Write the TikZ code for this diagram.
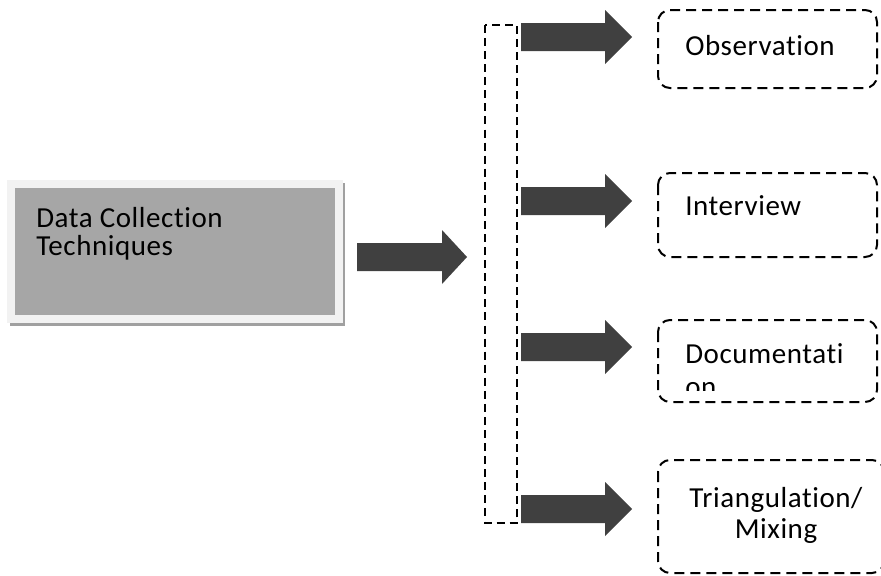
\documentclass[tikz,border=0pt]{standalone}
\usepackage{fontspec}
\setmainfont{Carlito}[LetterSpace=2,Ligatures=NoCommon]
\definecolor{arrowgray}{HTML}{404040}
\definecolor{boxgray}{HTML}{A6A6A6}
\definecolor{rimgray}{HTML}{F2F2F2}
\definecolor{shadowgray}{HTML}{A0A0A0}
\newcommand\mkblockarrow[3]{%
  \fill[blockarrow] (#1) ++(0,-14) -- ++(#2,0) -- ++(0,-13) -- ++(#3,27) -- ++(-#3,27) -- ++(0,-13) -- ++(-#2,0) -- cycle;}
\begin{document}
\begin{tikzpicture}[x=0.75pt,y=-0.75pt,
  blockarrow/.style={fill=arrowgray},
  itembox/.style={draw=black,line width=1.5pt,dash pattern=on 7.5pt off 4.5pt,rounded corners=9pt},
  bracketbox/.style={draw=black,line width=1.2pt,dash pattern=on 6pt off 3.8pt},
  lbl/.style={font=\fontsize{21.75pt}{23pt}\selectfont,inner sep=0pt,anchor=base west}]
\useasboundingbox (0,0) rectangle (881,575);
% main box
\fill[shadowgray] (10,183) rectangle (345,326);
\fill[rimgray] (7,180) rectangle (343,323);
\fill[boxgray] (15,188) rectangle (335,315);
\node[lbl] (t1) at (36,227) {Data Collection};
\node[lbl] (t2) at (36,255) {Techniques};
% bracket
\draw[bracketbox] (485,25) rectangle (517,523);
% arrows
\coordinate (a0) at (357,257);
\coordinate (a1) at (521,37);
\coordinate (a2) at (521,201);
\coordinate (a3) at (521,347);
\coordinate (a4) at (521,509);
\mkblockarrow{a0}{85}{25}
\mkblockarrow{a1}{84}{27}
\mkblockarrow{a2}{84}{27}
\mkblockarrow{a3}{84}{27}
\mkblockarrow{a4}{84}{27}
% item boxes
\draw[itembox] (658,10) rectangle (877,88);
\draw[itembox] (658,173) rectangle (877,257);
\draw[itembox] (658,320) rectangle (877,402);
\draw[itembox] (658,460) rectangle (884,573);
\node[lbl] (obs) at (685,55) {Observation};
\node[lbl] (int) at (685,215) {Interview};
\begin{scope}
\clip (660,322) rectangle (875,390);
\node[lbl] (doc) at (685,363) {Documentati};
\node[lbl] (doc2) at (685,396) {on};
\end{scope}
\node[lbl,anchor=base] (tri) at (776,507) {Triangulation/};
\node[lbl,anchor=base] (mix) at (776,538) {Mixing};
\end{tikzpicture}
\end{document}
